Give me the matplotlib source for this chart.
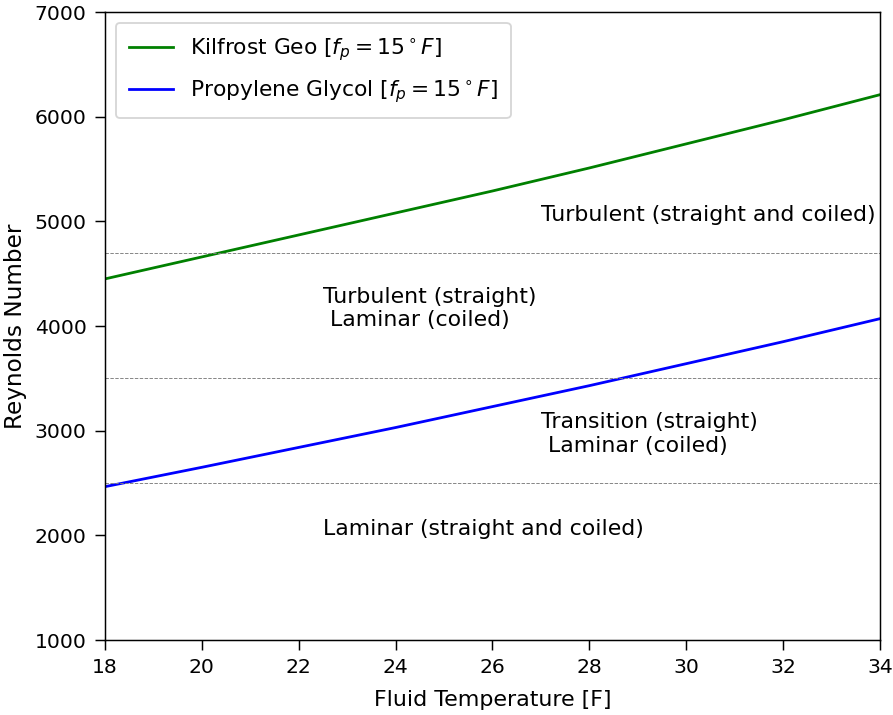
import matplotlib
matplotlib.use("Agg")
import matplotlib.pyplot as plt
import numpy as np

# temperatures and Reynolds numbers
temp = [18, 20, 22, 24, 26, 28, 30, 32, 34]
re_kilfrost = [4450, 4660, 4870, 5080, 5290, 5510, 5740, 5970, 6210]
re_glycol = [2465, 2650, 2840, 3030, 3230, 3430, 3640, 3850, 4070]

# regime limits
limites = [4700, 3500, 2500]

dpi = 133
fig = plt.figure(figsize=(893/dpi, 715/dpi), dpi=dpi)
ax = fig.add_axes([105/893, 75/715, 775/893, 628/715])

ax.plot(temp, re_kilfrost, "g-", linewidth=1.5, label=r"Kilfrost Geo [$f_p = 15^\circ F$]")
ax.plot(temp, re_glycol, "b-", linewidth=1.5, label=r"Propylene Glycol [$f_p = 15^\circ F$]")

for lim in limites:
    ax.axhline(lim, color="gray", linestyle="--", linewidth=0.5)

# regioes
ax.text(27, 5000, "Turbulent (straight and coiled)", fontsize=11.9)
ax.text(22.5, 4000, "Turbulent (straight)\n Laminar (coiled)", fontsize=11.9)
ax.text(27, 2800, "Transition (straight)\n Laminar (coiled)", fontsize=11.9)
ax.text(22.5, 2000, "Laminar (straight and coiled)", fontsize=11.9)

ax.set_xlim(18, 34)
ax.set_ylim(1000, 7000)
ax.set_xlabel("Fluid Temperature [F]", fontsize=12, labelpad=7)
ax.set_ylabel("Reynolds Number", fontsize=12.5, labelpad=4)
ax.tick_params(labelsize=11, length=5.5, pad=4.5)
ax.legend(loc="upper left", fontsize=11.8, labelspacing=0.7, borderpad=0.6)

fig.savefig("out.png", dpi=dpi)
